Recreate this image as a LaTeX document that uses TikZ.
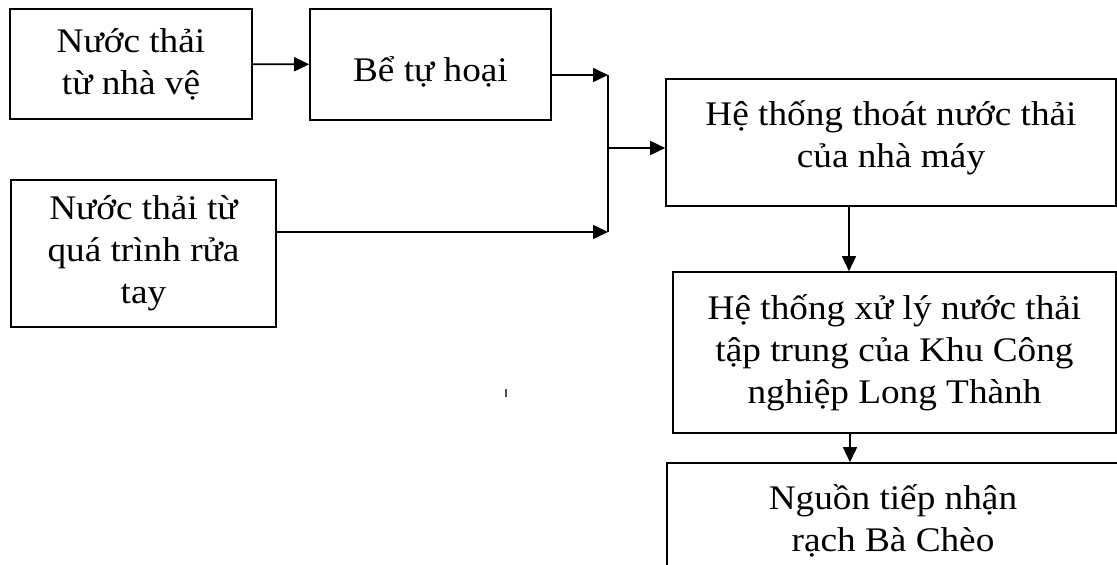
\documentclass[tikz,border=0pt]{standalone}
\usepackage{fontspec}
\setmainfont{Liberation Serif}[FakeStretch=1.08]
\usetikzlibrary{arrows.meta}
\begin{document}
\begin{tikzpicture}[x=1pt,y=-1pt,
  box/.style={draw, line width=1.6pt, align=center, inner sep=0pt,
    font=\fontsize{34.5}{42}\selectfont},
  boxtext/.style={font=\fontsize{34.5}{42}\selectfont, align=center, inner sep=0pt},
  arr/.style={line width=1.6pt, -{Triangle[length=15pt,width=14pt]}},
  plain/.style={line width=1.6pt}]
\useasboundingbox (0,0) rectangle (1117,565);
\clip (0,0) rectangle (1117,565);

% source boxes on the left
\node[box, minimum width=242pt, minimum height=110pt] (toilet) at (131,64)
  {Nước thải\\từ nhà vệ};
\node[box, minimum width=241pt, minimum height=111pt] (septic) at (430.5,64.5) {};
\node[boxtext] (septiclabel) at ([yshift=-7pt]septic.center) {Bể tự hoại};
\node[box, minimum width=265pt, minimum height=147pt] (wash) at (143.5,253.5)
  {Nước thải từ\\quá trình rửa\\tay};

% main column on the right
\node[box, minimum width=450pt, minimum height=127pt] (drain) at (891,142.5) {};
\node[boxtext] (drainlabel) at ([yshift=5pt]drain.center)
  {Hệ thống thoát nước thải\\của nhà máy};
\node[box, minimum width=443pt, minimum height=161pt] (plant) at (894.5,352.5)
  {Hệ thống xử lý nước thải\\tập trung của Khu Công\\nghiệp Long Thành};
\node[box, minimum width=452pt, minimum height=115pt] (river) at (893,520.5)
  {Nguồn tiếp nhận\\rạch Bà Chèo};

% junction points
\coordinate (jtop) at (608,75);
\coordinate (jmid) at (608,148);
\coordinate (jbot) at (608,232);
\coordinate (colA) at (849,0);
\coordinate (colB) at (850,0);

% connectors
\draw[arr] (toilet) -- (septic);
\draw[arr] (septic.east |- jtop) -- (jtop);
\draw[arr] (wash.east |- jbot) -- (jbot);
\draw[plain] (jtop) -- (jbot);
\draw[arr] (jmid) -- (drain.west |- jmid);
\draw[arr] (drain.south -| colA) -- (plant.north -| colA);
\draw[arr] (plant.south -| colB) -- (river.north -| colB);

% small stray tick
\draw[line width=1.2pt, black!70] (506,389) -- (506,397);
\end{tikzpicture}
\end{document}
